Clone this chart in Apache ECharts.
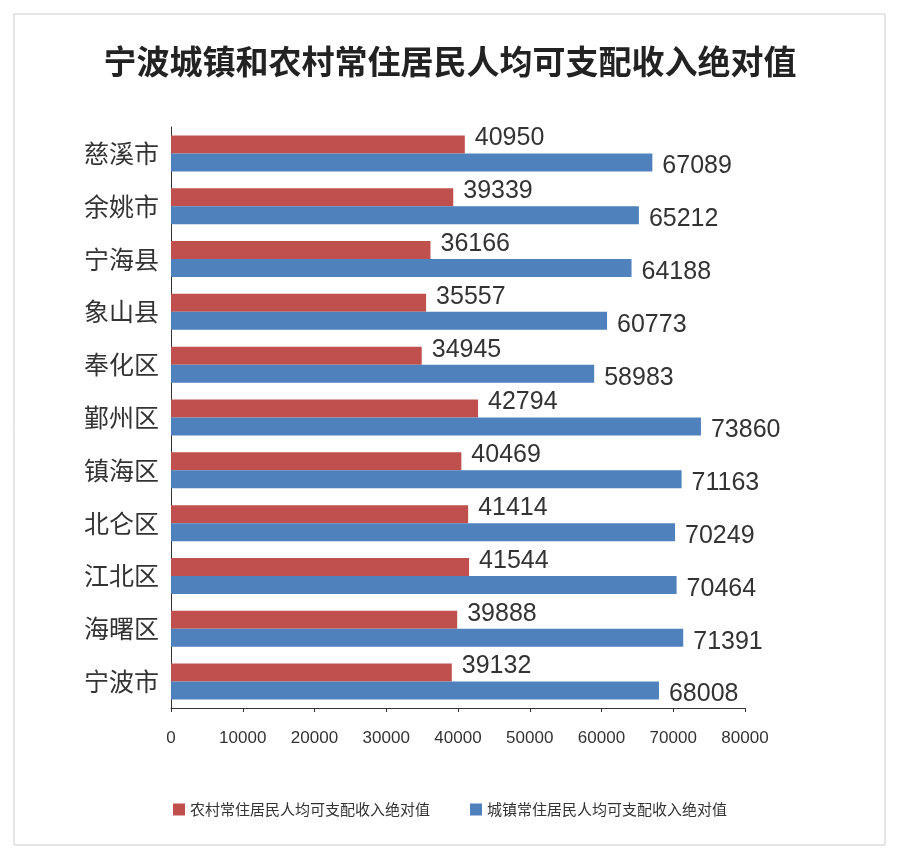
<!DOCTYPE html><html><head><meta charset="utf-8"><script src="https://cdn.jsdelivr.net/npm/echarts@6/dist/echarts.min.js"></script></head><body style="margin:0"><div id="c" style="width:900px;height:864px"></div><script>
const categories=['宁波市','海曙区','江北区','北仑区','镇海区','鄞州区','奉化区','象山县','宁海县','余姚市','慈溪市'];
const rural=[39132,39888,41544,41414,40469,42794,34945,35557,36166,39339,40950];
const urban=[68008,71391,70464,70249,71163,73860,58983,60773,64188,65212,67089];
const ruralName='农村常住居民人均可支配收入绝对值', urbanName='城镇常住居民人均可支配收入绝对值';
const ch=echarts.init(document.getElementById('c'));
const lbl={show:true,position:'right',fontSize:25,color:'#333',distance:10,offset:[0,-6]};
ch.setOption({
 backgroundColor:'#fff',
 title:{text:'宁波城镇和农村常住居民人均可支配收入绝对值',left:'center',top:40,textStyle:{fontSize:33,fontWeight:'bold',color:'#222',fontFamily:'Noto Sans CJK SC'}},
 graphic:[{type:'rect',shape:{x:14,y:14,width:871,height:831},style:{fill:'none',stroke:'#ccc',lineWidth:1}}],
 legend:{data:[ruralName,urbanName],bottom:42,itemWidth:12,itemHeight:12,itemGap:40,icon:'rect',textStyle:{fontSize:15,color:'#333',fontFamily:'Noto Sans CJK SC'}},
 grid:{left:171,right:155,top:127,bottom:156},
 xAxis:{type:'value',min:0,max:80000,interval:10000,splitLine:{show:false},axisLine:{show:true,lineStyle:{color:'#333'}},axisTick:{show:true,length:4},axisLabel:{fontSize:17,color:'#333',margin:22,formatter:v=>String(v)}},
 yAxis:{type:'category',data:categories,axisLine:{lineStyle:{color:'#333'}},axisTick:{show:false},axisLabel:{fontSize:25,color:'#333',margin:12,fontFamily:'Noto Sans CJK SC'}},
 series:[
  {name:ruralName,type:'bar',data:rural,barWidth:18,barGap:'0%',itemStyle:{color:'#C0504D'},label:lbl},
  {name:urbanName,type:'bar',data:urban,barWidth:18,barGap:'0%',itemStyle:{color:'#4F81BD'},label:{...lbl,offset:[0,4]}}
 ]
});
</script></body></html>
